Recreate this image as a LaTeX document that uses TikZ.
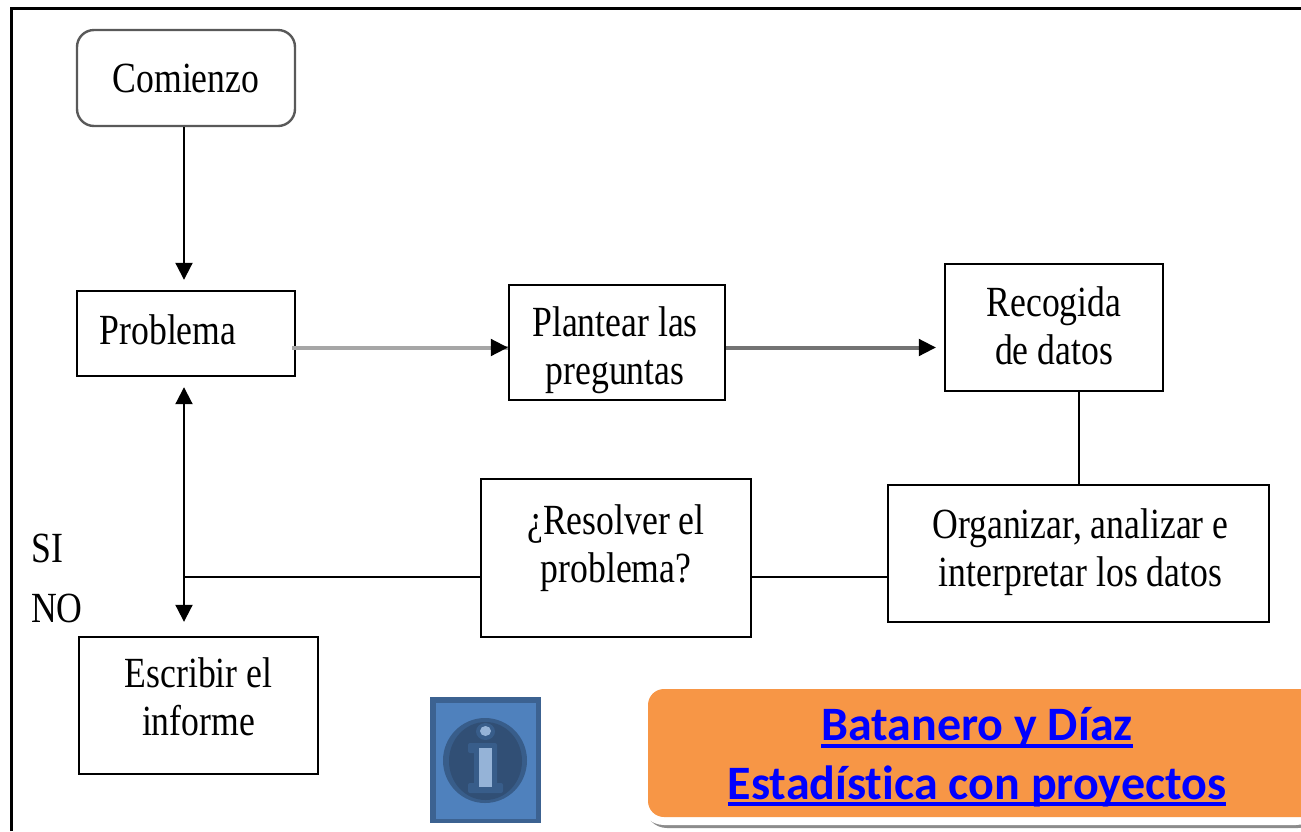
\documentclass[tikz,border=0pt]{standalone}
\usepackage{fontspec}
\setmainfont[FakeStretch=0.83]{Liberation Serif}
\newfontfamily\linkfont[Ligatures=NoCommon]{Carlito}
\usetikzlibrary{arrows.meta,calc}
\newcommand{\lnkline}[1]{\setbox0\hbox{#1}\rlap{\copy0}\raisebox{-7pt}{\rule{\wd0}{3.8pt}}}
\tikzset{
  x=1pt,y=-1pt,
  boxnode/.style={draw=black,line width=2.4pt,rectangle,inner sep=0pt},
  boxtext/.style={inner sep=0pt,align=center,font=\fontsize{43}{48}\selectfont},
  conn/.style={draw=black,line width=2pt},
  arr/.style={conn,-{Triangle[length=17pt,width=17pt]}},
  greyconn/.style={line width=4pt},
  freelabel/.style={inner sep=0pt,font=\fontsize{43}{48}\selectfont},
  linktext/.style={inner sep=0pt,text=blue,font=\linkfont\bfseries\fontsize{48}{58}\selectfont},
}
\begin{document}
\begin{tikzpicture}
\useasboundingbox (0,0) rectangle (1301,831);
\fill[white] (0,0) rectangle (1301,831);
% outer frame
\draw[black,line width=3pt] (11.5,831) -- (11.5,8.5) -- (1301,8.5);
% nodes
\node[boxnode,rounded corners=17pt,draw=black!65,minimum width=218pt,minimum height=96pt] (comienzo) at (186,78) {};
\node[boxnode,minimum width=218pt,minimum height=85pt] (problema) at (186,333.5) {};
\node[boxnode,minimum width=216pt,minimum height=115pt] (plantear) at (617,342.5) {};
\node[boxnode,minimum width=218pt,minimum height=127pt] (recogida) at (1054,327.5) {};
\node[boxnode,minimum width=381pt,minimum height=137pt] (organizar) at (1078.5,553.5) {};
\node[boxnode,minimum width=270pt,minimum height=158pt] (resolver) at (616,558) {};
\node[boxnode,minimum width=239pt,minimum height=137pt] (escribir) at (198.5,705.5) {};
\node[boxtext] (comienzot) at ($(comienzo)+(0,0)$) {Comienzo};
\node[boxtext] (problemat) at ($(problema)+(-18,-4)$) {Problema};
\node[boxtext] (planteart) at ($(plantear)+(-2,8)$) {Plantear las\\preguntas};
\node[boxtext] (recogidat) at ($(recogida)+(0,-2)$) {Recogida\\de datos};
\node[boxtext] (organizart) at ($(organizar)+(2,-1)$) {Organizar, analizar e\\interpretar los datos};
\node[boxtext] (resolvert) at ($(resolver)+(0,-10)$) {¿Resolver el\\problema?};
\node[boxtext] (escribirt) at ($(escribir)+(0,-9)$) {Escribir el\\informe};
\node[freelabel,anchor=west] (si) at (31,548) {SI};
\node[freelabel,anchor=west] (no) at (31,608) {NO};
% junction
\coordinate (junction) at (184,576.5);
% connectors
\draw[arr,shorten >=10pt] (comienzo.south -| junction) -- (problema.north -| junction);
\draw[greyconn,draw=black!35,shorten <=-4pt] (problema.east |- 0,347.5) -- (plantear.west |- 0,347.5);
\draw[arr,shorten <=197pt] (problema.east |- 0,347.5) -- (plantear.west |- 0,347.5);
\draw[greyconn,draw=black!55,shorten >=22pt] (plantear.east |- 0,347.5) -- (recogida.west |- 0,347.5);
\draw[arr,shorten <=195pt,shorten >=8pt] (plantear.east |- 0,347.5) -- (recogida.west |- 0,347.5);
\draw[conn] (recogida.south -| organizar.north) -- (organizar.north);
\draw[conn] (organizar.west |- junction) -- (resolver.east |- junction);
\draw[conn] (resolver.west |- junction) -- (junction);
\draw[arr,shorten >=10pt] (junction) -- (problema.south -| junction);
\draw[arr,shorten >=14pt] (junction) -- (escribir.north -| junction);
% info icon
\fill[fill={rgb,255:red,60;green,98;blue,145}] (430,697) rectangle (541,823);
\fill[fill={rgb,255:red,79;green,129;blue,189}] (436,703) rectangle (536,819);
\fill[fill={rgb,255:red,56;green,93;blue,138}] (485,760.5) ellipse [x radius=42pt,y radius=42.5pt];
\fill[fill={rgb,255:red,49;green,79;blue,117}] (485.5,761) ellipse [x radius=36.5pt,y radius=39pt];
\fill[fill={rgb,255:red,56;green,93;blue,138}] (485.5,731.5) ellipse [x radius=9.5pt,y radius=8.5pt];
\fill[fill={rgb,255:red,149;green,179;blue,215}] (485.5,731) ellipse [x radius=5.5pt,y radius=5pt];
\fill[fill={rgb,255:red,56;green,93;blue,138},rounded corners=2pt] (468,743) rectangle (495,753) (474,743) rectangle (497,793) (468,783) rectangle (503,793);
\fill[fill={rgb,255:red,149;green,179;blue,215}] (479,748) rectangle (492,787);
% link box
\fill[black!45,rounded corners=22pt] (645,700) rectangle (1320,828);
\fill[white,rounded corners=24pt] (640,681) rectangle (1320,825);
\fill[fill={rgb,255:red,247;green,150;blue,70},rounded corners=16pt] (648,689) rectangle (1320,817);
\node[linktext] (link1) at (977,728) {\lnkline{Batanero y Díaz}};
\node[linktext] (link2) at (977,786) {\lnkline{Estadística con proyectos}};
\end{tikzpicture}
\end{document}
